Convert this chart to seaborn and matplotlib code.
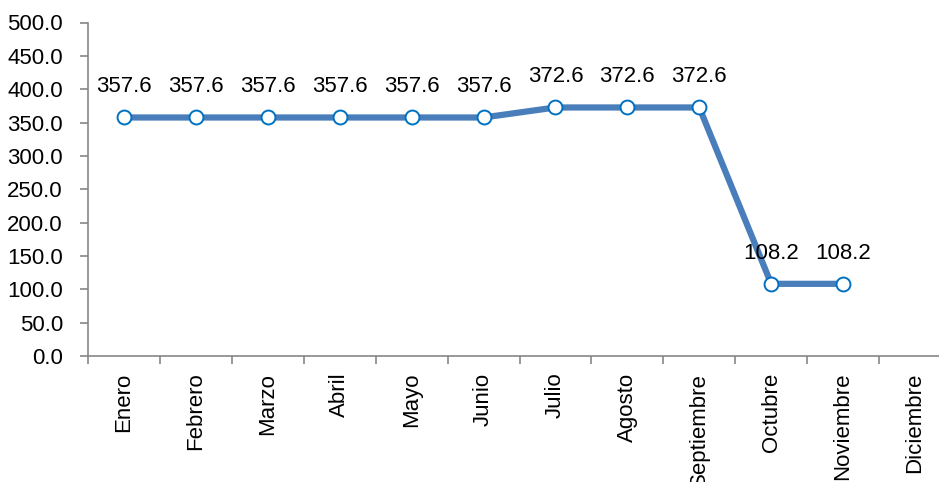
import numpy as np
import pandas as pd
import matplotlib.pyplot as plt
import seaborn as sns

# Datos mensuales
meses = ['Enero', 'Febrero', 'Marzo', 'Abril', 'Mayo', 'Junio', 'Julio',
         'Agosto', 'Septiembre', 'Octubre', 'Noviembre', 'Diciembre']
valores = [357.6, 357.6, 357.6, 357.6, 357.6, 357.6, 372.6,
           372.6, 372.6, 108.2, 108.2, np.nan]

df = pd.DataFrame({'pos': np.arange(len(meses)), 'mes': meses, 'valor': valores})

sns.set_style('white')
plt.rcParams['font.family'] = ['Liberation Sans Narrow', 'Liberation Sans', 'DejaVu Sans']
plt.rcParams['text.color'] = 'black'
plt.rcParams['xtick.color'] = 'black'
plt.rcParams['ytick.color'] = 'black'

fs = 16

fig = plt.figure(figsize=(9.39, 4.82), dpi=100)
ax = fig.add_axes([88 / 939, 126 / 482, 863 / 939, 333.5 / 482])

sns.lineplot(data=df.dropna(), x='pos', y='valor', ax=ax, color='#4A7EBB',
             linewidth=4.5, marker='o', markersize=10, markerfacecolor='white',
             markeredgecolor='#0070C0', markeredgewidth=1.4)

# Etiquetas de datos
for _, r in df.dropna().iterrows():
    ax.annotate(f"{r['valor']:.1f}", (r['pos'], r['valor']), xytext=(0, 22),
                textcoords='offset points', ha='center', va='center',
                fontsize=fs, color='black')

ax.set_ylim(0, 500)
ax.set_yticks(np.arange(0, 501, 50))
ax.set_yticklabels([f'{v:.1f}' for v in np.arange(0, 501, 50)], fontsize=fs)

ax.set_xlim(-0.5, len(meses) - 0.5)
ax.set_xticks(np.arange(len(meses)))
ax.set_xticklabels(meses, rotation=90, fontsize=fs, va='top', ha='center')
ax.set_xticks(np.arange(len(meses) + 1) - 0.5, minor=True)
ax.tick_params(axis='x', which='major', bottom=False, length=0, pad=12)
ax.tick_params(axis='x', which='minor', bottom=True, length=6, color='#868686',
               width=1.2, direction='out')
ax.tick_params(axis='y', left=True, length=6, color='#868686', labelcolor='black',
               width=1.2, direction='out', pad=12)

ax.set_xlabel('')
ax.set_ylabel('')
for s in ['top', 'right']:
    ax.spines[s].set_visible(False)
for s in ['left', 'bottom']:
    ax.spines[s].set_color('#868686')
    ax.spines[s].set_linewidth(1.2)

fig.savefig('out.png', dpi=100)
